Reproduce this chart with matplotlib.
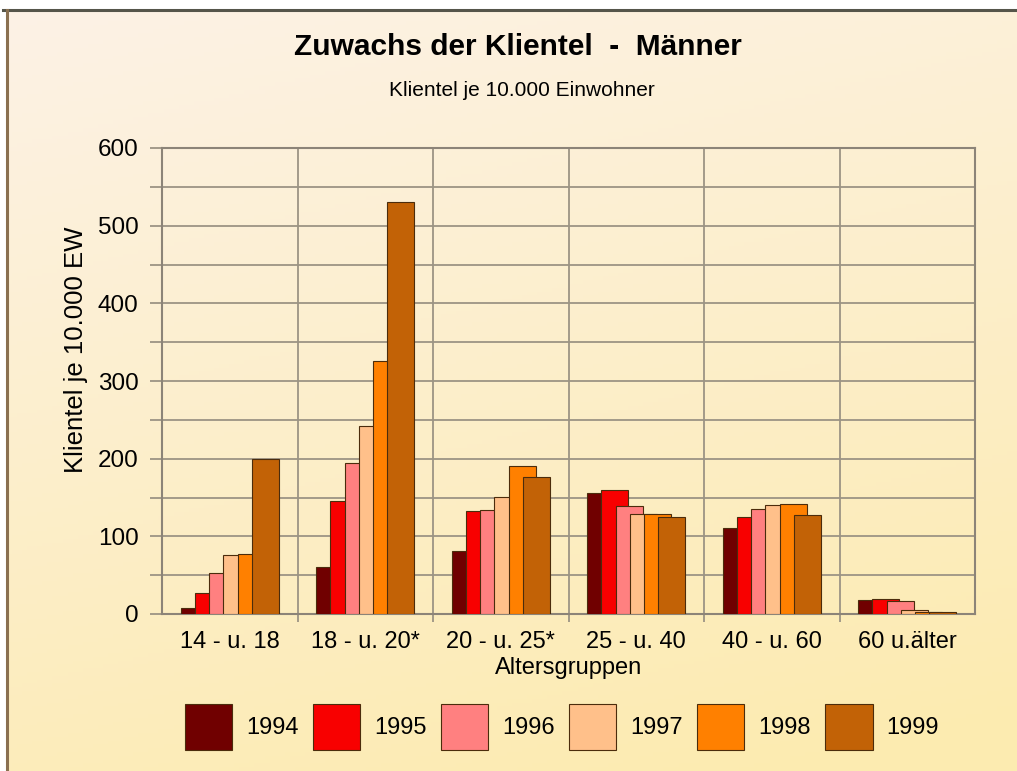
import numpy as np
import matplotlib
matplotlib.use("Agg")
import matplotlib.pyplot as plt
from matplotlib.colors import to_rgb

plt.rcParams['font.family'] = ['Liberation Sans', 'DejaVu Sans']

# Daten
gruppen = ["14 - u. 18", "18 - u. 20*", "20 - u. 25*", "25 - u. 40", "40 - u. 60", "60 u.älter"]
jahre = ["1994", "1995", "1996", "1997", "1998", "1999"]
w1994 = [8, 60, 81, 156, 111, 18]
w1995 = [27, 146, 132, 160, 125, 19]
w1996 = [53, 194, 134, 139, 135, 17]
w1997 = [76, 242, 151, 129, 140, 5]
w1998 = [77, 326, 190, 129, 142, 3]
w1999 = [199, 531, 176, 125, 127, 3]
werte = [w1994, w1995, w1996, w1997, w1998, w1999]
farben = ["#700000", "#F80000", "#FF8080", "#FFC08A", "#FF8000", "#C26206"]

W, H = 1017, 771
fig = plt.figure(figsize=(W / 100, H / 100), dpi=100)
fig.patch.set_facecolor("white")

# Hintergrund mit Farbverlauf
bg = fig.add_axes([0, 0, 1, 1], zorder=-10)
bg.set_xlim(0, W)
bg.set_ylim(H, 0)
bg.axis("off")
oben = np.array(to_rgb("#FDF2E6"))
unten = np.array(to_rgb("#FCEBB0"))
yy, xx = np.mgrid[0:1:200j, 0:1:200j]
t = np.clip(0.8 * yy + 0.25 * xx, 0, 1)[..., None]
img = oben * (1 - t) + unten * t
bg.imshow(img, extent=[7, W, H, 10], aspect="auto", zorder=0)
bg.plot([3, W], [10, 10], color="#55554a", lw=2.2, zorder=1)
bg.plot([7, 7], [10, H], color="#8a7050", lw=2.2, zorder=1)

ax = fig.add_axes([162 / W, (H - 614) / H, 813 / W, 466 / H])
ax.set_facecolor("none")

x = np.arange(len(gruppen))
breite = 0.2
versatz = 0.105
for i, (jahr, vals, col) in enumerate(zip(jahre, werte, farben)):
    ax.bar(x + (i - 2.5) * versatz, vals, breite, color=col, edgecolor="#4b2c0c",
           linewidth=0.8, zorder=3 + i, label=jahr)

ax.set_xlim(-0.5, len(gruppen) - 0.5)
ax.set_ylim(0, 600)
ax.set_yticks(range(0, 601, 100))
ax.set_yticks(range(50, 600, 100), minor=True)
ax.set_xticks(x)
ax.set_xticklabels(gruppen)
ax.set_xticks(np.arange(0.5, len(gruppen) - 0.5), minor=True)
ax.set_axisbelow(True)
ax.grid(which="both", axis="y", color="#9c9484", lw=1.3)
ax.grid(which="minor", axis="x", color="#9c9484", lw=1.3)
ax.tick_params(axis="y", which="both", length=9, width=1.3, color="#9c9484",
               labelsize=17.5, pad=8)
ax.tick_params(axis="x", which="major", length=0, labelsize=17, pad=12)
ax.tick_params(axis="x", which="minor", length=6, width=1.3, color="#9c9484")
for s in ax.spines.values():
    s.set_color("#8c8478")
    s.set_linewidth(1.5)

ax.set_xlabel("Altersgruppen", fontsize=17)
ax.xaxis.set_label_coords(0.5, -0.092)
fig.text(76 / W, 1 - 350 / H, "Klientel je 10.000 EW", rotation=90,
         ha="center", va="center", fontsize=18.5)

fig.text(518 / W, 1 - 47 / H, "Zuwachs der Klientel  -  Männer", ha="center",
         va="center", fontsize=21.5, fontweight="bold")
fig.text(522 / W, 1 - 90 / H, "Klientel je 10.000 Einwohner", ha="center",
         va="center", fontsize=15)

ax.legend(loc="center", bbox_to_anchor=(562 / W, 44 / H), bbox_transform=fig.transFigure,
          ncol=6, frameon=False, fontsize=17, handlelength=2.0, handleheight=2.6,
          handletextpad=0.6, columnspacing=0.6)

fig.savefig("out.png", dpi=100)
